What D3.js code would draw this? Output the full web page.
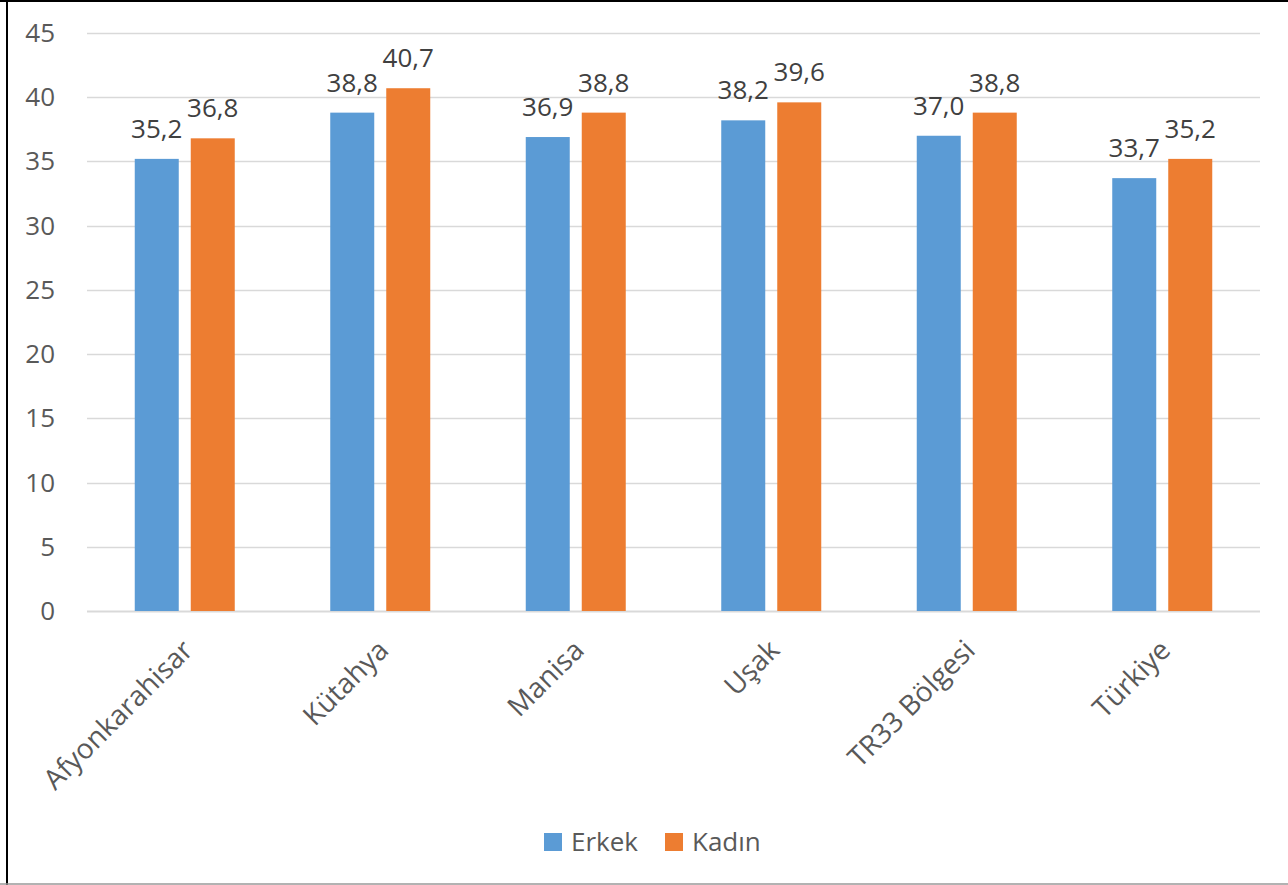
<!DOCTYPE html>
<html>
<head>
<meta charset="utf-8">
<script src="https://cdn.jsdelivr.net/npm/d3@7"></script>
<style>
    body { margin: 0; background: #fff; }
    svg { display: block; font-family: "Open Sans", sans-serif; }
</style>
</head>
<body>
<svg id="chart" width="1288" height="885"></svg>
<script>
// 性別ごとの値
const categories = ['Afyonkarahisar', 'Kütahya', 'Manisa', 'Uşak', 'TR33 Bölgesi', 'Türkiye'];
const erkek = [35.2, 38.8, 36.9, 38.2, 37.0, 33.7];
const kadin = [36.8, 40.7, 38.8, 39.6, 38.8, 35.2];
const seriesNames = ['Erkek', 'Kadın'];
const seriesColors = ['#5B9BD5', '#ED7D31'];
const yTicks = [0, 5, 10, 15, 20, 25, 30, 35, 40, 45];

const svg = d3.select('#chart');

// 枠線
svg.append('line').attr('x1', 7).attr('x2', 7).attr('y1', 0).attr('y2', 885)
    .attr('stroke', '#000').attr('stroke-width', 2);
svg.append('line').attr('x1', 0).attr('x2', 1288).attr('y1', 1).attr('y2', 1)
    .attr('stroke', '#000').attr('stroke-width', 2);
svg.append('line').attr('x1', 0).attr('x2', 1288).attr('y1', 884).attr('y2', 884)
    .attr('stroke', '#999').attr('stroke-width', 1.5);

const plot = { left: 87, right: 1260, top: 33, bottom: 611 };

const x = d3.scaleBand().domain(categories).range([plot.left, plot.right]);
const y = d3.scaleLinear().domain([0, 45]).range([plot.bottom, plot.top]);

// グリッド線
svg.append('g')
    .selectAll('line')
    .data(yTicks)
    .enter().append('line')
    .attr('x1', plot.left).attr('x2', plot.right)
    .attr('y1', d => Math.round(y(d)) + 0.5).attr('y2', d => Math.round(y(d)) + 0.5)
    .attr('stroke', '#D9D9D9').attr('stroke-width', d => d === 0 ? 2 : 1.5);

// Y軸ラベル
svg.append('g')
    .selectAll('text')
    .data(yTicks)
    .enter().append('text')
    .attr('x', 55)
    .attr('y', d => y(d) + 9)
    .attr('text-anchor', 'end')
    .attr('font-size', 26)
    .attr('fill', '#595959')
    .text(d => d);

const barW = 44;
const gap = 12;
const series = [erkek, kadin];

series.forEach((values, si) => {
    const offset = si === 0 ? -gap / 2 - barW : gap / 2;
    const g = svg.append('g');
    g.selectAll('rect')
        .data(values)
        .enter().append('rect')
        .attr('x', (d, i) => x(categories[i]) + x.bandwidth() / 2 + offset)
        .attr('y', d => y(d))
        .attr('width', barW)
        .attr('height', d => y(0) - y(d))
        .attr('fill', seriesColors[si]);

    g.selectAll('text')
        .data(values)
        .enter().append('text')
        .attr('x', (d, i) => x(categories[i]) + x.bandwidth() / 2 + offset + barW / 2)
        .attr('y', d => y(d) - 21)
        .attr('text-anchor', 'middle')
        .attr('font-size', 26)
        .attr('fill', '#404040')
        .text(d => d.toFixed(1).replace('.', ','));
});

// カテゴリラベル
svg.append('g')
    .selectAll('text')
    .data(categories)
    .enter().append('text')
    .attr('transform', d => `translate(${x(d) + x.bandwidth() / 2 + 4},${646}) rotate(-45)`)
    .attr('text-anchor', 'end')
    .attr('dy', '0.3em')
    .attr('font-size', 28)
    .attr('fill', '#595959')
    .text(d => d);

// 凡例
const legendX = [544, 665];
seriesNames.forEach((name, i) => {
    svg.append('rect')
        .attr('x', legendX[i]).attr('y', 833)
        .attr('width', 18).attr('height', 18)
        .attr('fill', seriesColors[i]);
    svg.append('text')
        .attr('x', legendX[i] + 27).attr('y', 851)
        .attr('font-size', 26)
        .attr('fill', '#595959')
        .text(name);
});
</script>
</body>
</html>
